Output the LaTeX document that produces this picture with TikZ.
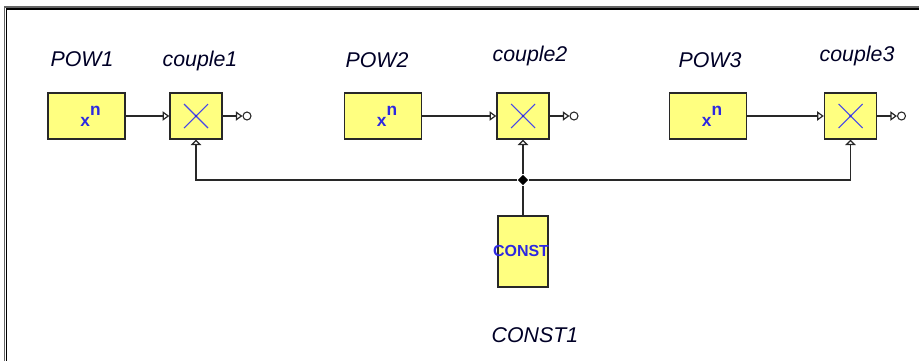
\documentclass[tikz,border=0pt]{standalone}
\usepackage{fontspec}
\setmainfont{Liberation Sans}
\usetikzlibrary{arrows.meta,shapes.geometric}

\definecolor{blockfill}{RGB}{255,255,128}
\definecolor{textblue}{RGB}{45,40,225}
\definecolor{crossblue}{RGB}{70,70,235}
\definecolor{edge}{RGB}{40,40,40}

\tikzset{
  block/.style={draw=edge, line width=1.1pt, fill=blockfill, inner sep=0pt,
    minimum height=34.5pt, text=textblue,
    font=\fontsize{13}{13}\selectfont\bfseries},
  powbox/.style={block, minimum width=57.75pt},
  mulbox/.style={block, minimum width=39pt,
    path picture={
      \draw[crossblue, line width=0.8pt]
        ([shift={(-9pt,-9pt)}]path picture bounding box.center) --
        ([shift={(9pt,9pt)}]path picture bounding box.center);
      \draw[crossblue, line width=0.8pt]
        ([shift={(-9pt,9pt)}]path picture bounding box.center) --
        ([shift={(9pt,-9pt)}]path picture bounding box.center);
      \fill[textblue] (path picture bounding box.center) circle (1pt);
    }},
  constbox/.style={block, minimum width=37.5pt, minimum height=53.25pt},
  consttext/.style={inner sep=0pt, text=textblue,
    font=\fontsize{12}{12}\selectfont\bfseries},
  tag/.style={anchor=base, inner sep=0pt, text=black!85!blue,
    font=\fontsize{16}{16}\selectfont\itshape},
  wire/.style={draw=edge, line width=0.9pt},
  inarrow/.style={wire, -{Triangle[open, length=5pt, width=7pt]}},
  uparrow/.style={wire, -{Triangle[open, length=4pt, width=8pt]}},
  outcirc/.style={circle, draw=edge, line width=0.8pt, inner sep=0pt,
    minimum size=6pt},
  junction/.style={diamond, fill=black, inner sep=0pt, minimum size=8pt}
}

\begin{document}
\begin{tikzpicture}[x=0.75pt, y=-0.75pt]

  \useasboundingbox (0,0) rectangle (919,361);

  % frame
  \draw[line width=1pt, black!60] (919,7) -- (4.5,7) -- (4.5,361);
  \draw[line width=0.8pt] (919,9) -- (6.5,9) -- (6.5,361);

  % power and multiplier pairs
  \foreach \i/\px/\cx/\plx/\clx/\ply/\cly in
    {1/86.5/196/82/200/66/66,
     2/383/523/377/530/67/61,
     3/708/850.5/710/857/67/61}
  {
    \node[powbox] (pow\i) at (\px,116) {\hspace*{6pt}x\raisebox{8pt}{n}};
    \node[mulbox] (mul\i) at (\cx,116) {};
    \node[outcirc] (out\i) at ({\cx+51},116) {};
    \node[tag] (powlab\i) at (\plx,\ply) {POW\i};
    \node[tag] (mullab\i) at (\clx,\cly) {couple\i};
    \draw[inarrow] (pow\i.east) -- (mul\i.west);
    \draw[inarrow] (mul\i.east) -- (out\i.west);
  }

  % constant and bus
  \node[constbox] (const) at (523,251.5) {};
  \node[consttext] (constname) at (521,251) {CONST};
  \node[tag] (constlab) at (535,342) {CONST1};
  \node[junction] (jn) at (523,180) {};

  \draw[wire] (const.north) -- (jn);
  \draw[uparrow] (jn) -- (mul2.south);
  \draw[uparrow] (jn) -| (mul1.south);
  \draw[uparrow] (jn) -| (mul3.south);

\end{tikzpicture}
\end{document}
